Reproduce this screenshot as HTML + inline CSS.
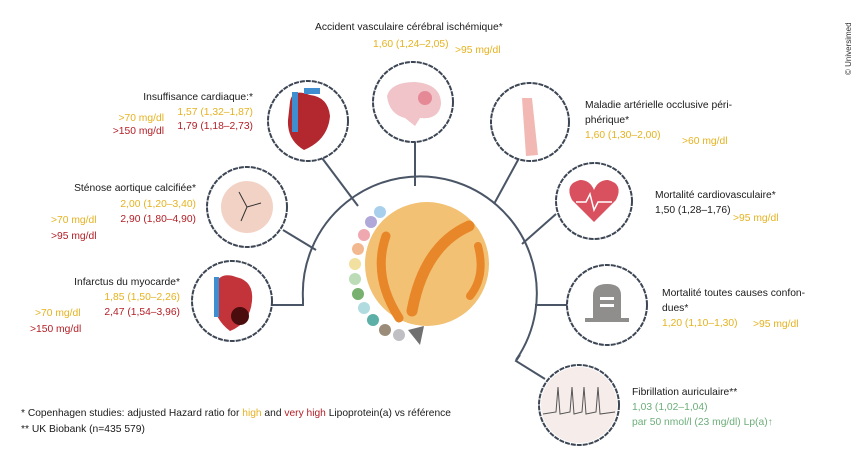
<!DOCTYPE html>
<html><head><meta charset="utf-8"><style>
html,body{margin:0;padding:0;background:#fff;}
svg{display:block;font-family:"Liberation Sans",sans-serif;}
.t{font-size:10.3px;fill:#1a1a1a;}
.y{font-size:10.3px;fill:#e5b21f;}
.r{font-size:10.3px;fill:#b31e25;}
.g{font-size:10.3px;fill:#6cae7a;}
.c{fill:#fff;stroke:#3d4654;stroke-width:2;stroke-dasharray:5 1;}
.l{fill:none;stroke:#4a5566;stroke-width:2;}
</style></head><body>
<svg width="854" height="461" viewBox="0 0 854 461" xmlns="http://www.w3.org/2000/svg">
<!-- connectors -->
<path class="l" d="M303,300 A117,117 0 1 1 516,360"/>
<path class="l" d="M303,298 L303,305 L272,305"/>
<line class="l" x1="415" y1="142" x2="415" y2="186"/>
<line class="l" x1="322" y1="158" x2="358" y2="206"/>
<line class="l" x1="283" y1="230" x2="316" y2="250"/>
<line class="l" x1="518" y1="160" x2="494" y2="204"/>
<line class="l" x1="556" y1="214" x2="522" y2="244"/>
<line class="l" x1="535" y1="305" x2="567" y2="305"/>
<path class="l" d="M520,355 L516,361 L545,379"/>
<!-- circles -->
<circle class="c" cx="308" cy="121" r="40"/>
<circle class="c" cx="413" cy="102" r="40"/>
<circle class="c" cx="530" cy="122" r="39"/>
<circle class="c" cx="594" cy="201" r="38"/>
<circle class="c" cx="607" cy="305" r="40"/>
<circle class="c" cx="579" cy="405" r="40"/>
<circle class="c" cx="247" cy="207" r="40"/>
<circle class="c" cx="232" cy="301" r="40"/>
<!-- icons -->
<path d="M290,102 Q292,88 310,95 Q328,97 330,116 Q328,140 304,150 Q287,140 288,120Z" fill="#b2282e"/>
<rect x="292" y="92" width="6" height="40" fill="#3f8fd0"/>
<rect x="304" y="88" width="16" height="6" fill="#3f8fd0"/>
<path d="M387,96 Q391,82 415,82 Q441,84 441,104 Q439,120 420,118 L415,126 L405,118 Q389,114 387,96Z" fill="#f0c4c8"/>
<circle cx="425" cy="98" r="7" fill="#e07080" opacity=".7"/>
<path d="M522,98 L532,98 L538,155 L526,156Z" fill="#f2b8b4"/>
<path d="M594,222 L572,200 Q564,184 580,180 Q590,180 594,190 Q598,180 608,180 Q624,184 616,200Z" fill="#d9505e"/>
<polyline points="576,202 586,202 590,194 594,210 598,202 612,202" fill="none" stroke="#fff" stroke-width="1.5"/>
<path d="M593,320 L593,295 Q593,284 607,284 Q621,284 621,295 L621,320Z" fill="#8f8e8c"/>
<rect x="585" y="318" width="44" height="4" fill="#8f8e8c"/>
<rect x="600" y="297" width="14" height="3" fill="#fff"/><rect x="600" y="304" width="14" height="3" fill="#fff"/>
<circle cx="579" cy="405" r="38" fill="#f6ecea"/>
<polyline points="543,414 556,412 558,387 560,414 570,412 572,387 574,414 582,412 584,387 586,414 596,412 598,387 600,414 615,412" fill="none" stroke="#555" stroke-width="1"/>
<circle cx="247" cy="207" r="26" fill="#f3d2c6"/>
<path d="M247,207 L239,192 M247,207 L261,203 M247,207 L241,221" stroke="#333" stroke-width="1" fill="none"/>
<path d="M214,286 Q220,271 236,277 Q254,281 252,301 Q250,323 230,331 Q214,319 214,301Z" fill="#c2343a"/>
<rect x="214" y="277" width="5" height="40" fill="#3f8fd0"/>
<circle cx="240" cy="316" r="9" fill="#4a0c0c"/>
<!-- particle -->
<circle cx="427" cy="264" r="62" fill="#f2c173"/>
<path d="M386,236 Q372,276 399,318" stroke="#e8862a" stroke-width="9" fill="none" stroke-linecap="round"/>
<path d="M469,226 Q424,246 412,311" stroke="#e8862a" stroke-width="11" fill="none" stroke-linecap="round"/>
<path d="M478,246 Q486,276 470,296" stroke="#e8862a" stroke-width="8" fill="none" stroke-linecap="round"/>
<g>
<circle cx="380" cy="212" r="6" fill="#a8d0ec"/><circle cx="371" cy="222" r="6" fill="#b0a8d8"/>
<circle cx="364" cy="235" r="6" fill="#f0a8b0"/><circle cx="358" cy="249" r="6" fill="#f2b890"/>
<circle cx="355" cy="264" r="6" fill="#f2e0a0"/><circle cx="355" cy="279" r="6" fill="#bcdcb8"/>
<circle cx="358" cy="294" r="6" fill="#78b070"/><circle cx="364" cy="308" r="6" fill="#b0dce0"/>
<circle cx="373" cy="320" r="6" fill="#5cb0a8"/><circle cx="385" cy="330" r="6" fill="#9a8c78"/>
<circle cx="399" cy="335" r="6" fill="#c0c0c4"/><path d="M408,330 L424,326 L420,345 Z" fill="#707070"/>
</g>
<!-- texts -->
<text class="t" x="315" y="30">Accident vasculaire cérébral ischémique*</text>
<text class="y" x="373" y="47">1,60 (1,24–2,05)</text>
<text class="y" x="455" y="53">&gt;95 mg/dl</text>
<text x="851" y="75" font-size="8" fill="#333" transform="rotate(-90 851 75)">© Universimed</text>
<text class="t" x="585" y="108">Maladie artérielle occlusive péri-</text>
<text class="t" x="585" y="123">phérique*</text>
<text class="y" x="585" y="138">1,60 (1,30–2,00)</text>
<text class="y" x="682" y="144">&gt;60 mg/dl</text>
<text class="t" x="655" y="198">Mortalité cardiovasculaire*</text>
<text class="t" x="655" y="213">1,50 (1,28–1,76)</text>
<text class="y" x="733" y="221">&gt;95 mg/dl</text>
<text class="t" x="662" y="296">Mortalité toutes causes confon-</text>
<text class="t" x="662" y="311">dues*</text>
<text class="y" x="662" y="326">1,20 (1,10–1,30)</text>
<text class="y" x="753" y="327">&gt;95 mg/dl</text>
<text class="t" x="632" y="395">Fibrillation auriculaire**</text>
<text class="g" x="632" y="410">1,03 (1,02–1,04)</text>
<text class="g" x="632" y="425">par 50 nmol/l (23 mg/dl) Lp(a)↑</text>
<text class="t" x="253" y="100" text-anchor="end">Insuffisance cardiaque:*</text>
<text class="y" x="253" y="115" text-anchor="end">1,57 (1,32–1,87)</text>
<text class="r" x="253" y="129" text-anchor="end">1,79 (1,18–2,73)</text>
<text class="y" x="164" y="121" text-anchor="end">&gt;70 mg/dl</text>
<text class="r" x="164" y="134" text-anchor="end">&gt;150 mg/dl</text>
<text class="t" x="196" y="191" text-anchor="end">Sténose aortique calcifiée*</text>
<text class="y" x="196" y="207" text-anchor="end">2,00 (1,20–3,40)</text>
<text class="r" x="196" y="222" text-anchor="end">2,90 (1,80–4,90)</text>
<text class="y" x="51" y="223">&gt;70 mg/dl</text>
<text class="r" x="51" y="239">&gt;95 mg/dl</text>
<text class="t" x="180" y="285" text-anchor="end">Infarctus du myocarde*</text>
<text class="y" x="180" y="300" text-anchor="end">1,85 (1,50–2,26)</text>
<text class="r" x="180" y="315" text-anchor="end">2,47 (1,54–3,96)</text>
<text class="y" x="35" y="316">&gt;70 mg/dl</text>
<text class="r" x="30" y="332">&gt;150 mg/dl</text>
<text class="t" x="21" y="416" textLength="430" lengthAdjust="spacingAndGlyphs">* Copenhagen studies: adjusted Hazard ratio for <tspan fill="#e5b21f">high</tspan> and <tspan fill="#b31e25">very high</tspan> Lipoprotein(a) vs référence</text>
<text class="t" x="21" y="432">** UK Biobank (n=435 579)</text>
</svg>
</body></html>
